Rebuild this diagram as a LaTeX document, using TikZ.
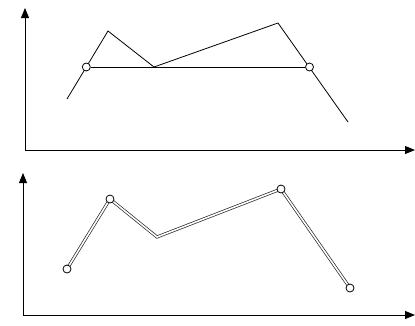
\documentclass[tikz,border=0pt]{standalone}
\usetikzlibrary{arrows.meta,backgrounds}
\begin{document}
\begin{tikzpicture}[x=1pt,y=-1pt,
  axis/.style={line width=0.9pt,-{Triangle[width=8pt,length=10pt]}},
  curve/.style={line width=0.8pt,line join=miter},
  dcurve/.style={draw=black!85,line width=0.7pt,double=white,double distance=1.6pt},
  pt/.style={circle,draw,line width=0.8pt,fill=white,inner sep=0pt,minimum size=8pt}]
\useasboundingbox (0,0) rectangle (415,325);
% top chart
\coordinate (o1) at (25,150);
\coordinate (y1) at (25,8);
\coordinate (x1) at (415,150);
\draw[axis] (o1) -- (y1);
\draw[axis] (o1) -- (x1);
\coordinate (a1) at (67,99);
\coordinate (b1) at (108,31);
\coordinate (c1) at (154,67);
\coordinate (d1) at (278,23);
\coordinate (e1) at (348,122);
\draw[curve] (a1) -- (b1) -- (c1) -- (d1) -- (e1);
\node[pt] (p1) at (86.3,67) {};
\node[pt] (p2) at (309.5,67) {};
\draw[curve] (p1) -- (p2);
% bottom chart
\coordinate (o2) at (23,315);
\coordinate (y2) at (23,173);
\coordinate (x2) at (415,315);
\draw[axis] (o2) -- (y2);
\draw[axis] (o2) -- (x2);
\coordinate (c2) at (157,237);
\node[pt] (q1) at (67,269) {};
\node[pt] (q2) at (110,199) {};
\node[pt] (q4) at (281,189) {};
\node[pt] (q5) at (350,288) {};
\begin{scope}[on background layer]
\draw[dcurve] (q1.center) -- (q2.center) -- (c2) -- (q4.center) -- (q5.center);
\end{scope}
\end{tikzpicture}
\end{document}
